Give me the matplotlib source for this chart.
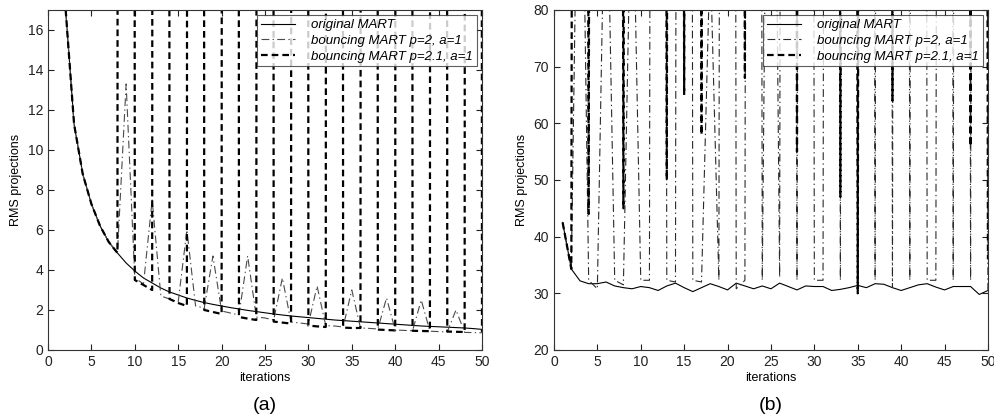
import numpy as np
import matplotlib
matplotlib.use("Agg")
import matplotlib.pyplot as plt

plt.rcParams["font.family"] = ["Liberation Sans", "DejaVu Sans"]

iterations = np.arange(1, 51)

# ---- panel (a) ----
orig_a = [30.0, 17.2, 11.3, 8.8, 7.3, 6.2, 5.4, 4.85, 4.35, 3.95,
          3.6, 3.35, 3.1, 2.9, 2.75, 2.6, 2.48, 2.37, 2.28, 2.2,
          2.12, 2.05, 1.98, 1.92, 1.86, 1.8, 1.75, 1.7, 1.66, 1.62,
          1.58, 1.54, 1.5, 1.47, 1.44, 1.41, 1.38, 1.35, 1.32, 1.29,
          1.26, 1.23, 1.2, 1.18, 1.16, 1.14, 1.12, 1.1, 1.07, 1.03]
bounce2_a = [30.0, 17.2, 11.3, 8.8, 7.3, 6.2, 5.4, 4.85, 13.3, 3.6,
             3.3, 7.5, 2.7, 2.55, 2.4, 6.0, 2.2, 2.1, 4.7, 1.95,
             1.85, 1.75, 4.7, 1.65, 1.6, 1.5, 3.6, 1.4, 1.35, 1.3,
             3.2, 1.22, 1.2, 1.15, 3.0, 1.1, 1.08, 1.05, 2.6, 1.0,
             0.98, 0.96, 2.5, 0.94, 0.92, 0.9, 2.0, 0.88, 0.87, 0.86]
bounce21_a = [30.0, 17.2, 11.3, 8.8, 7.3, 6.2, 5.4, 4.85, 1000, 3.5,
              3.25, 3.0, 1000, 2.55, 2.35, 2.2, 1000, 2.0, 1.9, 1.8,
              1000, 1.65, 1.57, 1.5, 1000, 1.42, 1.37, 1.32, 1000, 1.22,
              1.18, 1.15, 1000, 1.12, 1.1, 1.1, 1000, 1.02, 1.0, 0.98,
              1000, 0.96, 0.95, 0.94, 1000, 0.92, 0.91, 0.9, 1000, 0.9]

# ---- panel (b) ----
orig_b = [42.5, 34.3, 32.2, 31.7, 31.7, 32.0, 31.3, 31.0, 30.8, 31.2,
          31.0, 30.5, 31.3, 31.8, 31.0, 30.3, 31.0, 31.7, 31.2, 30.6,
          31.8, 31.3, 30.8, 31.3, 30.8, 31.8, 31.2, 30.6, 31.3, 31.2,
          31.2, 30.5, 30.7, 31.0, 31.4, 31.0, 31.7, 31.6, 31.0, 30.5,
          31.0, 31.5, 31.7, 31.1, 30.6, 31.2, 31.2, 31.2, 29.8, 30.5]
bounce2_b = [42.5, 34.3, 140, 32.3, 30.8, 115, 32.3, 31.5, 110, 32.3,
             32.3, 1000, 32.3, 32.0, 1000, 32.3, 32.0, 90, 32.3, 1000,
             30.8, 32.3, 1000, 32.3, 200, 32.8, 1000, 32.3, 1000, 32.3,
             32.3, 1000, 32.3, 1000, 31.0, 1000, 32.3, 1000, 31.0, 1000,
             32.3, 1000, 32.3, 32.3, 1000, 32.3, 1000, 32.3, 1000, 30.0]
bounce21_b = [42.5, 34.3, 1000, 44, 1000, 1000, 1000, 45, 1000, 1000,
              1000, 1000, 50, 1000, 65, 1000, 58, 1000, 1000, 1000,
              1000, 68, 1000, 1000, 1000, 1000, 1000, 55, 1000, 1000,
              1000, 1000, 47, 1000, 30, 1000, 1000, 1000, 64, 1000,
              1000, 1000, 1000, 1000, 1000, 1000, 1000, 56, 1000, 36]

labels = ["original MART", "bouncing MART p=2, a=1", "bouncing MART p=2.1, a=1"]

fig = plt.figure(figsize=(9.94, 4.19), dpi=100)
ax_a = fig.add_axes([0.0483, 0.1647, 0.4366, 0.8115])
ax_b = fig.add_axes([0.5573, 0.1647, 0.4366, 0.8115])

panels = [
    (ax_a, orig_a, bounce2_a, bounce21_a, (0, 17), np.arange(0, 17, 2), "(a)", "#4a4a4a"),
    (ax_b, orig_b, bounce2_b, bounce21_b, (20, 80), np.arange(20, 81, 10), "(b)", "#2a2a2a"),
]

for ax, orig, b2, b21, ylim, yticks, tag, dd_col in panels:
    ax.plot(iterations, orig, color="black", lw=0.8, label=labels[0])
    ax.plot(iterations, b2, color=dd_col, lw=0.8,
            linestyle=(0, (7, 3, 1.2, 3)), label=labels[1])
    ax.plot(iterations, b21, color="black", lw=1.6,
            linestyle=(0, (3, 1.8)), label=labels[2])
    ax.set_xlim(0, 50)
    ax.set_ylim(*ylim)
    ax.set_xticks(np.arange(0, 51, 5))
    ax.set_yticks(yticks)
    ax.tick_params(direction="in", top=True, right=True, length=4,
                   labelsize=10, colors="#222222")
    for sp in ax.spines.values():
        sp.set_color("#333333")
        sp.set_linewidth(0.8)
    ax.set_xlabel("iterations", fontsize=9, labelpad=2)
    ax.set_ylabel("RMS projections", fontsize=9, labelpad=4)
    leg = ax.legend(loc="upper right", fontsize=9.5, frameon=True, fancybox=False,
                    handlelength=2.6, borderpad=0.3, labelspacing=0.25,
                    handletextpad=1.2, borderaxespad=0.4)
    leg.get_frame().set_edgecolor("#333333")
    leg.get_frame().set_linewidth(0.8)
    for t in leg.get_texts():
        t.set_fontstyle("italic")
    ax.text(0.5, -0.163, tag, transform=ax.transAxes, ha="center", va="center",
            fontsize=14)

fig.savefig("out.png", dpi=100)
